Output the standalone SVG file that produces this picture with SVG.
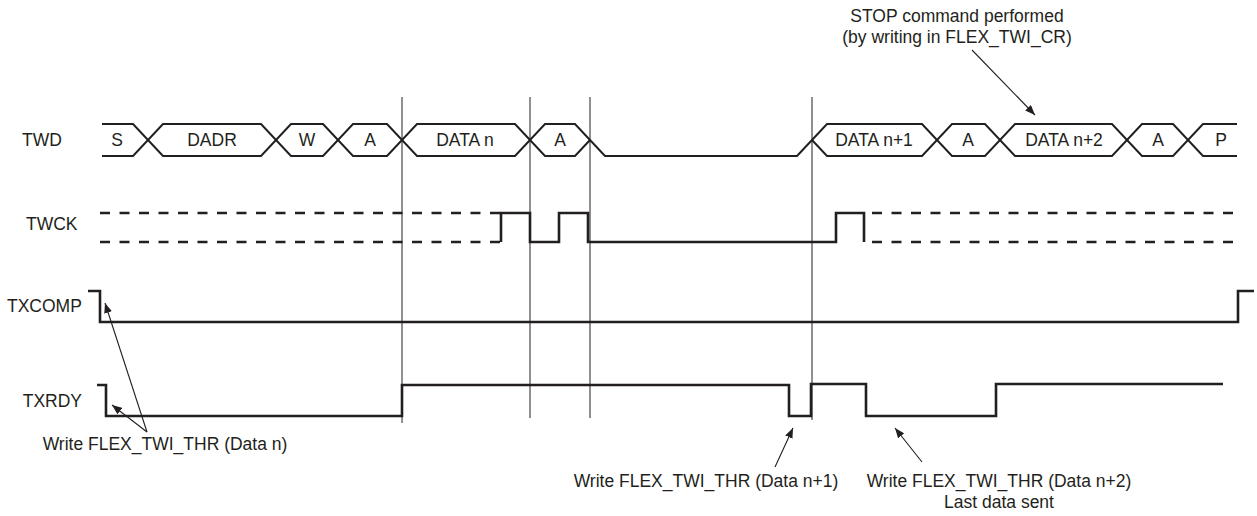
<svg xmlns="http://www.w3.org/2000/svg" width="1257" height="516" viewBox="0 0 1257 516">
<style>
text{font-family:"Liberation Sans",Arial,sans-serif;font-size:17.5px;fill:#231f20}
.c{text-anchor:middle}
.bus{fill:none;stroke:#231f20;stroke-width:2;stroke-linejoin:miter}
.sig{fill:none;stroke:#231f20;stroke-width:2.6}
.dash{fill:none;stroke:#231f20;stroke-width:2.6;stroke-dasharray:10 9.5}
.mark{stroke:#231f20;stroke-width:1}
.arr{stroke:#231f20;stroke-width:1.1;fill:none;marker-end:url(#ah)}
</style>
<defs>
<marker id="ah" viewBox="0 0 10 8" refX="10" refY="4" markerWidth="10" markerHeight="8" markerUnits="userSpaceOnUse" orient="auto">
<path d="M0,0 L10,4 L0,8 Z" fill="#231f20"/>
</marker>
</defs>
<rect width="1257" height="516" fill="#fff"/>
<g id="markers">
<line class="mark" x1="402" y1="97" x2="402" y2="423"/>
<line class="mark" x1="530" y1="97" x2="530" y2="418"/>
<line class="mark" x1="590" y1="97" x2="590" y2="418"/>
<line class="mark" x1="812" y1="97" x2="812" y2="420"/>
</g>
<g id="twd">
<text x="22" y="146">TWD</text>
<polyline class="bus" points="102,124 133,124 163,156 261,156 291,124 323,124 353,156 387,156 417,124 515,124 545,156 575,156 590,140"/>
<polyline class="bus" points="102,156 133,156 163,124 261,124 291,156 323,156 353,124 387,124 417,156 515,156 545,124 575,124 605,156 797,156 812,140 827,124 922,124 952,156 985,156 1015,124 1112,124 1142,156 1173,156 1203,124 1237,124"/>
<polyline class="bus" points="812,140 827,156 922,156 952,124 985,124 1015,156 1112,156 1142,124 1173,124 1203,156 1237,156"/>
<text class="c" x="117" y="146">S</text>
<text class="c" x="212" y="146">DADR</text>
<text class="c" x="307" y="146">W</text>
<text class="c" x="370" y="146">A</text>
<text class="c" x="465" y="146">DATA n</text>
<text class="c" x="560" y="146">A</text>
<text class="c" x="874" y="146">DATA n+1</text>
<text class="c" x="968" y="146">A</text>
<text class="c" x="1064" y="146">DATA n+2</text>
<text class="c" x="1158" y="146">A</text>
<text class="c" x="1221" y="146">P</text>
</g>
<g id="twck">
<text x="26" y="230">TWCK</text>
<line class="dash" x1="100" y1="213" x2="500" y2="213"/>
<line class="dash" x1="100" y1="242" x2="500" y2="242"/>
<path class="sig" d="M501,242 V213 H530 V242 H559 V213 H588 V242 H836 V213 H864 V242"/>
<line class="dash" x1="872" y1="213" x2="1233" y2="213"/>
<line class="dash" x1="872" y1="242" x2="1233" y2="242"/>
</g>
<g id="txcomp">
<text x="7" y="312">TXCOMP</text>
<path class="sig" d="M88,291 H100 V322 H1238 V291 H1254"/>
</g>
<g id="txrdy">
<text x="82" y="407" text-anchor="end">TXRDY</text>
<path class="sig" d="M97,385 H106 V416 H402 V385 H789 V416 H811 V384 H866 V416 H996 V384 H1223"/>
</g>
<g id="note-stop">
<text class="c" x="957" y="22">STOP command performed</text>
<text class="c" x="957" y="43">(by writing in FLEX_TWI_CR)</text>
</g>
<g id="note-data-n">
<text class="c" x="165" y="450">Write FLEX_TWI_THR (Data n)</text>
</g>
<g id="note-data-n1">
<text class="c" x="706" y="487">Write FLEX_TWI_THR (Data n+1)</text>
</g>
<g id="note-data-n2">
<text class="c" x="999" y="487">Write FLEX_TWI_THR (Data n+2)</text>
<text class="c" x="999" y="508">Last data sent</text>
</g>
<g id="connectors">
<line class="arr" x1="972" y1="50" x2="1035" y2="115"/>
<line class="arr" x1="147" y1="432" x2="105" y2="303"/>
<line class="arr" x1="147" y1="432" x2="112" y2="405"/>
<line class="arr" x1="775" y1="467" x2="793" y2="428"/>
<line class="arr" x1="922" y1="462" x2="895" y2="428"/>
</g>
</svg>
